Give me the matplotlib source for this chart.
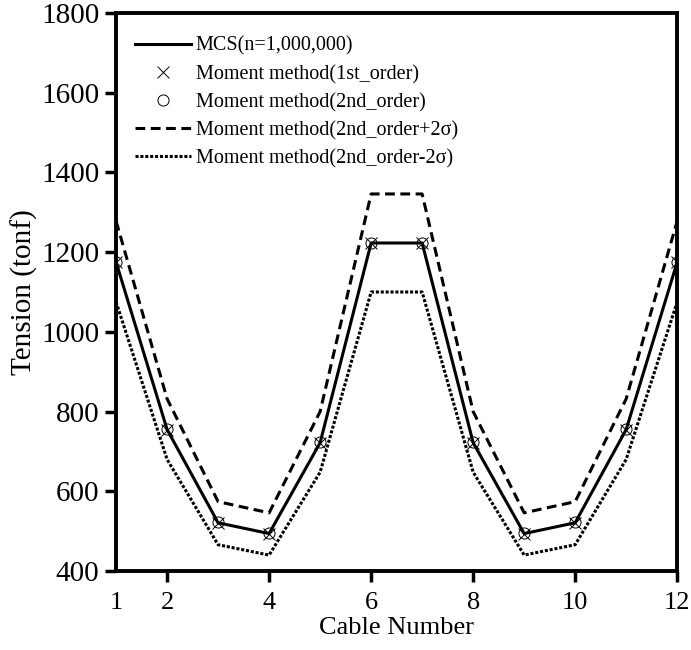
import numpy as np
import matplotlib
matplotlib.use('Agg')
import matplotlib.pyplot as plt

plt.rcParams['font.family'] = ['Liberation Serif', 'DejaVu Serif']

#data
cables = [1, 2, 3, 4, 5, 6, 7, 8, 9, 10, 11, 12]
mcs = [1175, 755, 521, 494, 722, 1223, 1223, 722, 494, 521, 755, 1175]
first_order = [1175, 755, 521, 494, 722, 1223, 1223, 722, 494, 521, 755, 1175]
second_order = [1176, 756, 522, 495, 723, 1224, 1224, 723, 495, 522, 756, 1176]
upper = [1278, 832, 574, 546, 800, 1346, 1346, 800, 546, 574, 832, 1278]
lower = [1075, 680, 466, 440, 648, 1100, 1100, 648, 440, 466, 680, 1075]

xticks = [1, 2, 4, 6, 8, 10, 12]
yticks = [400, 600, 800, 1000, 1200, 1400, 1600, 1800]

fig = plt.figure(figsize=(6.91, 6.5), dpi=100)
ax = fig.add_axes([0.168, 0.1215, 0.812, 0.8585])

lw = 2.2
ax.plot(cables, mcs, color='black', lw=lw, label='MCS(n=1,000,000)')
ax.plot(cables, first_order, ls='none', marker='x', ms=8, mew=0.7, color='black',
        label='Moment method(1st_order)')
ax.plot(cables, second_order, ls='none', marker='o', ms=8, mew=0.7, mfc='none', color='black',
        label='Moment method(2nd_order)')
ax.plot(cables, upper, color='black', lw=lw, ls=(0, (3.2, 1.8)),
        label='Moment method(2nd_order+2σ)')
ax.plot(cables, lower, color='black', lw=lw, ls=(0, (1.0, 0.6)),
        label='Moment method(2nd_order-2σ)')

ax.set_xlim(1, 12)
ax.set_ylim(400, 1800)
ax.set_xticks(xticks)
ax.set_yticks(yticks)
ax.tick_params(direction='out', length=8, width=2.5, pad=4)
ax.tick_params(axis='y', labelsize=21)
ax.tick_params(axis='x', labelsize=19, pad=7)
ax.xaxis.get_major_ticks()[0].tick1line.set_visible(False)
for s in ax.spines.values():
    s.set_linewidth(2.8)

ax.set_xlabel('Cable Number', fontsize=19, labelpad=2)
ax.set_ylabel('Tension (tonf)', fontsize=21, labelpad=2)

ax.legend(loc='upper left', frameon=False, fontsize=14.5, handlelength=2.75,
          handletextpad=0.25, labelspacing=0.44, borderaxespad=0.0,
          bbox_to_anchor=(0.02, 0.972))

fig.savefig('out.png', dpi=100)
